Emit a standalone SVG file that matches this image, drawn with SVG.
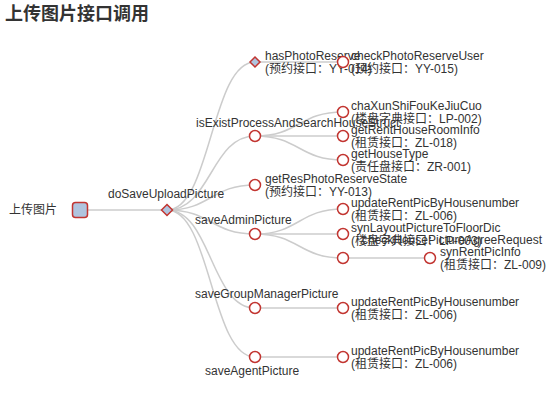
<svg xmlns="http://www.w3.org/2000/svg" width="550" height="420" viewBox="0 0 550 420">
<style>
.t{font-family:"Liberation Sans","Noto Sans CJK SC",sans-serif;font-size:12px;fill:#333}
.title{font-family:"Liberation Sans","Noto Sans CJK SC",sans-serif;font-size:18px;font-weight:bold;fill:#333}
.e{fill:none;stroke:#ccc;stroke-width:1.5}
.c{fill:#fff;stroke:#c23531;stroke-width:1.5}
.d{fill:#b0c4de;stroke:#c23531;stroke-width:1.5}
</style>
<rect width="550" height="420" fill="#fff"/>
<text class="title" x="5" y="20">上传图片接口调用</text>
<g id="connectors">
<path class="e" d="M80,210 L167,210"/>
<path class="e" d="M167,210 C211,210 211,62 255,62"/>
<path class="e" d="M167,210 C211,210 211,136 255,136"/>
<path class="e" d="M167,210 C211,210 211,185 255,185"/>
<path class="e" d="M167,210 C211,210 211,234 255,234"/>
<path class="e" d="M167,210 C211,210 211,308 255,308"/>
<path class="e" d="M167,210 C211,210 211,357 255,357"/>
<path class="e" d="M255,62 L343,62"/>
<path class="e" d="M255,136 C299,136 299,112 343,112"/>
<path class="e" d="M255,136 L343,136"/>
<path class="e" d="M255,136 C299,136 299,160 343,160"/>
<path class="e" d="M255,234 C299,234 299,209 343,209"/>
<path class="e" d="M255,234 L343,234"/>
<path class="e" d="M255,234 C299,234 299,258 343,258"/>
<path class="e" d="M343,258 L430,258"/>
<path class="e" d="M255,308 L343,308"/>
<path class="e" d="M255,357 L343,357"/>
</g>
<g id="root"><rect class="d" x="72.5" y="202.5" width="15" height="15" rx="3"/><text class="t" x="57" y="214" text-anchor="end">上传图片</text></g>
<g id="doSaveUploadPicture"><path class="d" d="M167,204.5 L172.5,210 L167,215.5 L161.5,210 Z"/><text class="t" x="108" y="197.5">doSaveUploadPicture</text></g>
<g id="hasPhotoReserve"><path class="d" d="M255,57 L260,62 L255,67 L250,62 Z"/><text class="t" x="265" y="59.5">hasPhotoReserve</text><text class="t" x="265" y="72.5">(预约接口：YY-014)</text></g>
<g id="isExistProcessAndSearchHouseStruct"><circle class="c" cx="255" cy="136" r="5.5"/><text class="t" x="196" y="126.5">isExistProcessAndSearchHouseStruct</text></g>
<g id="getResPhotoReserveState"><circle class="c" cx="255" cy="185" r="5.5"/><text class="t" x="265" y="182.5">getResPhotoReserveState</text><text class="t" x="265" y="195.5">(预约接口：YY-013)</text></g>
<g id="saveAdminPicture"><circle class="c" cx="255" cy="234" r="5.5"/><text class="t" x="195" y="224">saveAdminPicture</text></g>
<g id="saveGroupManagerPicture"><circle class="c" cx="255" cy="308" r="5.5"/><text class="t" x="195" y="297.5">saveGroupManagerPicture</text></g>
<g id="saveAgentPicture"><circle class="c" cx="255" cy="357" r="5.5"/><text class="t" x="205" y="375">saveAgentPicture</text></g>
<g id="checkPhotoReserveUser"><circle class="c" cx="343" cy="62" r="5.5"/><text class="t" x="351" y="59.5">checkPhotoReserveUser</text><text class="t" x="351" y="72.5">(预约接口：YY-015)</text></g>
<g id="chaXunShiFouKeJiuCuo"><circle class="c" cx="343" cy="112" r="5.5"/><text class="t" x="351" y="109.5">chaXunShiFouKeJiuCuo</text><text class="t" x="351" y="122.5">(楼盘字典接口：LP-002)</text></g>
<g id="getRentHouseRoomInfo"><circle class="c" cx="343" cy="136" r="5.5"/><text class="t" x="351" y="133.5">getRentHouseRoomInfo</text><text class="t" x="351" y="146.5">(租赁接口：ZL-018)</text></g>
<g id="getHouseType"><circle class="c" cx="343" cy="160" r="5.5"/><text class="t" x="351" y="157.5">getHouseType</text><text class="t" x="351" y="170.5">(责任盘接口：ZR-001)</text></g>
<g id="updateRentPicByHousenumber1"><circle class="c" cx="343" cy="209" r="5.5"/><text class="t" x="351" y="206.5">updateRentPicByHousenumber</text><text class="t" x="351" y="219.5">(租赁接口：ZL-006)</text></g>
<g id="synLayoutPictureToFloorDic"><circle class="c" cx="343" cy="234" r="5.5"/><text class="t" x="351" y="231.5">synLayoutPictureToFloorDic</text><text class="t" x="351" y="244.5">(楼盘字典接口：LP-003)</text></g>
<g id="checkHousePictureAgreeRequest"><circle class="c" cx="343" cy="258" r="5.5"/><text class="t" x="542" y="243.5" text-anchor="end">checkHousePictureAgreeRequest</text></g>
<g id="synRentPicInfo"><circle class="c" cx="430" cy="258" r="5.5"/><text class="t" x="440" y="255.5">synRentPicInfo</text><text class="t" x="440" y="268.5">(租赁接口：ZL-009)</text></g>
<g id="updateRentPicByHousenumber2"><circle class="c" cx="343" cy="308" r="5.5"/><text class="t" x="351" y="305.5">updateRentPicByHousenumber</text><text class="t" x="351" y="318.5">(租赁接口：ZL-006)</text></g>
<g id="updateRentPicByHousenumber3"><circle class="c" cx="343" cy="357" r="5.5"/><text class="t" x="351" y="354.5">updateRentPicByHousenumber</text><text class="t" x="351" y="367.5">(租赁接口：ZL-006)</text></g>
</svg>
